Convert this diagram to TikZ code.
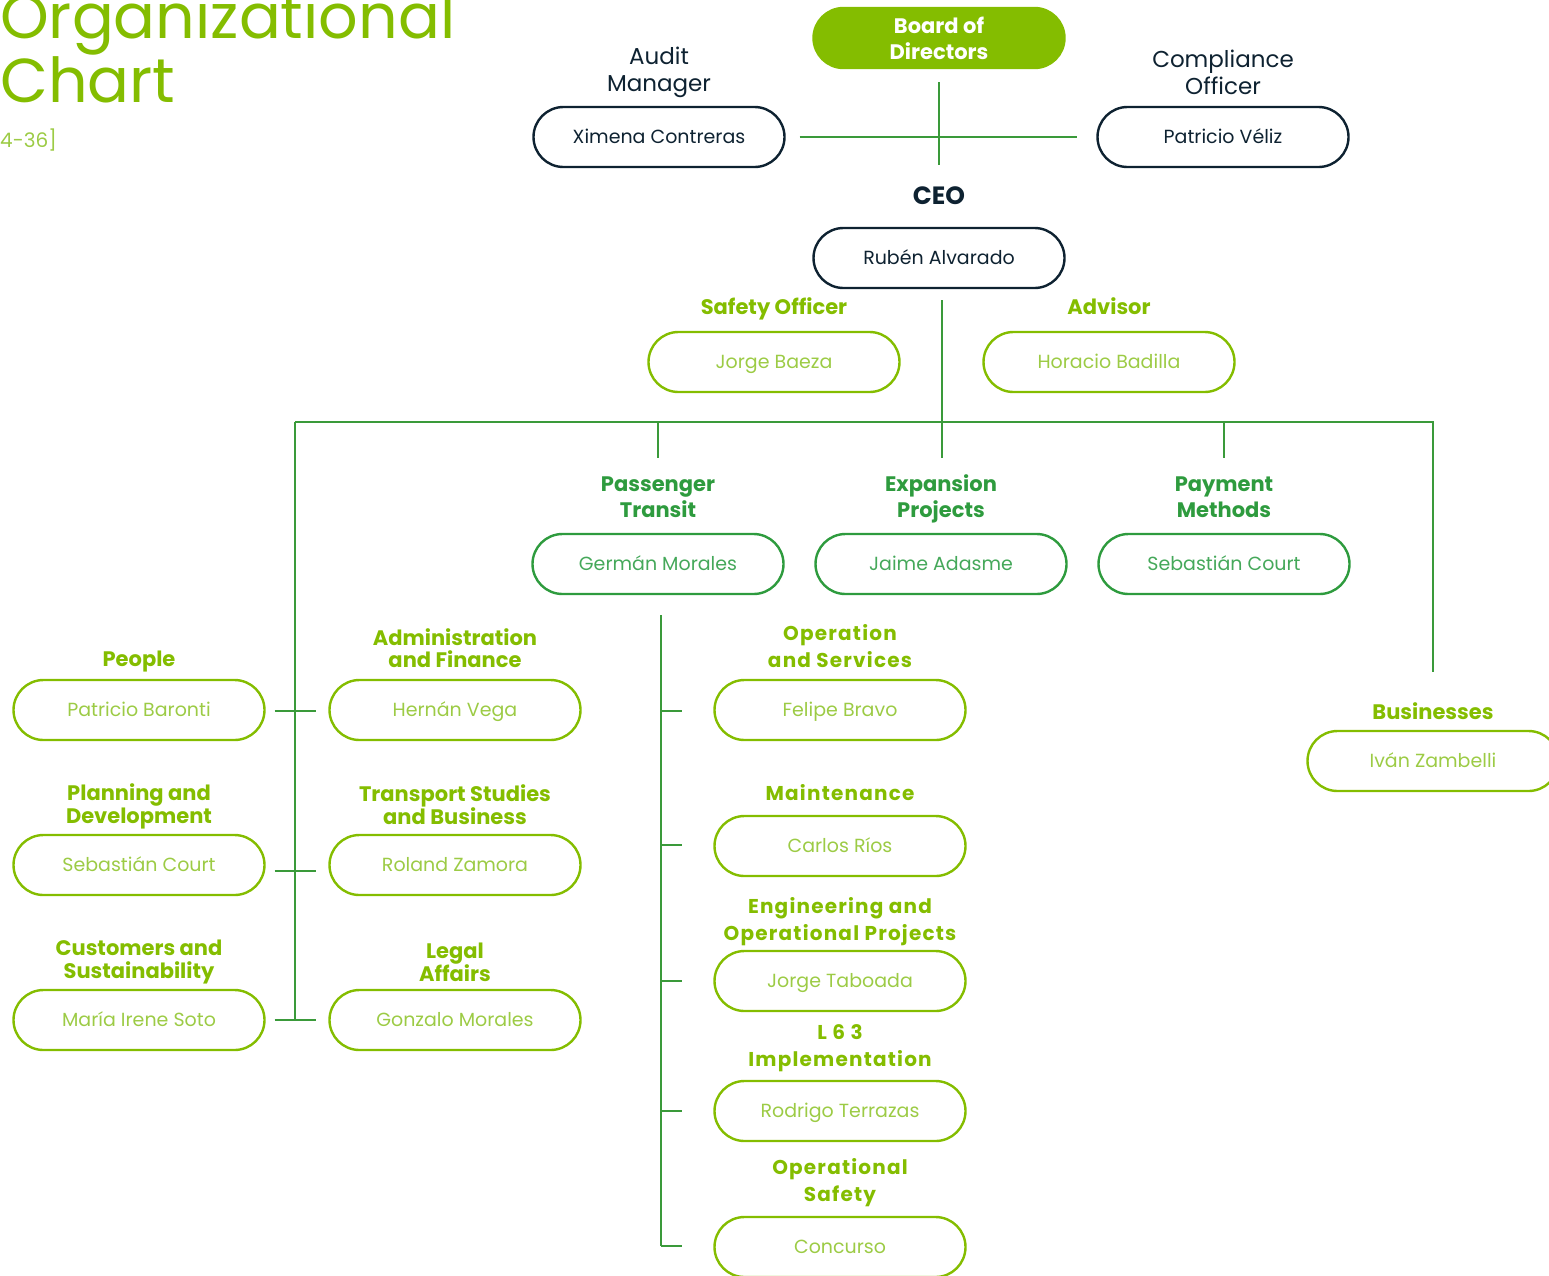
\documentclass[tikz,border=0pt]{standalone}
\usepackage{fontspec}
\setmainfont{Poppins}
\definecolor{lime}{HTML}{84BD00}
\definecolor{dgreen}{HTML}{2E9B3E}
\definecolor{navy}{HTML}{0E2231}
\definecolor{lline}{HTML}{3A9A3A}
\definecolor{limetxt}{HTML}{9CCB45}
\definecolor{dgtxt}{HTML}{45A85A}
\tikzset{
  box/.style={rectangle, rounded corners=30pt, minimum width=251pt, minimum height=60pt,
    line width=2.4pt, inner sep=0pt, text height=13pt, text depth=0pt, font=\fontsize{19}{22}\selectfont},
  navybox/.style={box, draw=navy, text=navy},
  limebox/.style={box, draw=lime, text=limetxt},
  greenbox/.style={box, draw=dgreen, text=dgtxt},
  lbl/.style={align=center, inner sep=0pt, font=\bfseries\fontsize{21}{26}\selectfont},
  onelbl/.style={text height=15pt, text depth=0pt},
  limelbl/.style={lbl, text=lime},
  greenlbl/.style={lbl, text=dgreen},
  widelbl/.style={lbl, text=lime, font=\bfseries\fontsize{20}{27}\selectfont\addfontfeature{LetterSpace=6}},
  navylbl/.style={align=center, inner sep=0pt, text=navy, font=\fontsize{23}{27}\selectfont},
  conn/.style={draw=lline, line width=1.1pt},
}
\begin{document}
\begin{tikzpicture}[x=1pt,y=-1pt]
\useasboundingbox (0,0) rectangle (1549,1275);
% title
\node[anchor=base west, inner sep=0pt, text=lime, font=\fontsize{62}{64}\selectfont] (t1) at (0,38) {Organizational};
\node[anchor=base west, inner sep=0pt, text=lime, font=\fontsize{62}{64}\selectfont] (t2) at (0,102) {Chart};
\node[anchor=base west, inner sep=0pt, text=limetxt, font=\fontsize{20}{22}\selectfont] (t3) at (0,147) {4-36]};

% top
\node[box, fill=lime, draw=lime, text=white, align=center, text height=, text depth=, font=\bfseries\fontsize{21}{26}\selectfont] (board) at (939,38) {Board of\\Directors};
\node[navylbl] (amlbl) at (659,72) {Audit\\Manager};
\node[navybox] (ximena) at (659,137) {Ximena Contreras};
\node[navylbl] (colbl) at (1223,72) {Compliance\\Officer};
\node[navybox] (veliz) at (1223,137) {Patricio Véliz};
\node[lbl, text height=18pt, text depth=0pt, text=navy, font=\bfseries\fontsize{25}{28}\selectfont] (ceolbl) at (939,195) {CEO};
\node[navybox] (ceo) at (939,258) {Rubén Alvarado};

\node[limelbl, onelbl] (solbl) at (774,307) {Safety Officer};
\node[limebox] (so) at (774,362) {Jorge Baeza};
\node[limelbl, onelbl] (advlbl) at (1109,307) {Advisor};
\node[limebox] (adv) at (1109,362) {Horacio Badilla};

% second level
\node[greenlbl] (ptlbl) at (658,497) {Passenger\\Transit};
\node[greenbox] (pt) at (658,564) {Germán Morales};
\node[greenlbl] (eplbl) at (941,499) {Expansion\\Projects};
\node[greenbox] (ep) at (941,564) {Jaime Adasme};
\node[greenlbl] (pmlbl) at (1224,497) {Payment\\Methods};
\node[greenbox] (pm) at (1224,564) {Sebastián Court};

% left columns
\node[limelbl, onelbl] (pelbl) at (139,659) {People};
\node[limebox] (pe) at (139,710) {Patricio Baronti};
\node[limelbl, font=\bfseries\fontsize{21}{23}\selectfont] (pdlbl) at (139,806) {Planning and\\Development};
\node[limebox] (pd) at (139,865) {Sebastián Court};
\node[limelbl, font=\bfseries\fontsize{21}{23}\selectfont] (cslbl) at (139,962) {Customers and\\Sustainability};
\node[limebox] (cs) at (139,1020) {María Irene Soto};

\node[limelbl, font=\bfseries\fontsize{21}{22}\selectfont] (aflbl) at (455,648) {Administration\\and Finance};
\node[limebox] (af) at (455,710) {Hernán Vega};
\node[limelbl, font=\bfseries\fontsize{21}{23}\selectfont] (tslbl) at (455,805) {Transport Studies\\and Business};
\node[limebox] (ts) at (455,865) {Roland Zamora};
\node[limelbl, font=\bfseries\fontsize{21}{23}\selectfont] (lalbl) at (455,962) {Legal\\Affairs};
\node[limebox] (la) at (455,1020) {Gonzalo Morales};

% right column
\node[widelbl] (oslbl) at (840,646) {Operation\\and Services};
\node[limebox] (os) at (840,710) {Felipe Bravo};
\node[widelbl, onelbl] (mtlbl) at (840,793) {Maintenance};
\node[limebox] (mt) at (840,846) {Carlos Ríos};
\node[widelbl] (eolbl) at (840,922) {Engineering and\\Operational Projects};
\node[limebox] (eo) at (840,981) {Jorge Taboada};
\node[widelbl] (l6lbl) at (840,1048) {L 6 3\\Implementation};
\node[limebox] (l6) at (840,1111) {Rodrigo Terrazas};
\node[widelbl] (oplbl) at (840,1183) {Operational\\Safety};
\node[limebox] (op) at (840,1247) {Concurso};

\node[limelbl, onelbl] (bulbl) at (1433,712) {Businesses};
\node[limebox] (bu) at (1433,761) {Iván Zambelli};

% connectors
\coordinate (bdA) at (939,82);
\coordinate (bdB) at (939,165);
\draw[conn] (bdA) -- (bdB);
\draw[conn] ([xshift=14pt]ximena.east) -- ([xshift=-19pt]veliz.west);

\coordinate (ceoA) at (942,300);
\coordinate (bus) at (942,422);
\coordinate (busL) at (295,422);
\coordinate (busR) at (1433,422);
\coordinate (ptT) at (658,422);
\coordinate (pmT) at (1224,422);
\coordinate (ptB) at (658,458);
\coordinate (epB) at (942,458);
\coordinate (pmB) at (1224,458);
\coordinate (buB) at (1433,672);
\draw[conn] (ceoA) -- (bus) -- (epB);
\draw[conn] (busL) -- (busR) -- (buB);
\draw[conn] (ptT) -- (ptB);
\draw[conn] (pmT) -- (pmB);

\coordinate (lv1) at (295,711);
\coordinate (lv2) at (295,871);
\coordinate (lv3) at (295,1020);
\draw[conn] (busL) -- (lv3);
\draw[conn] ([xshift=9pt]pe.east |- lv1) -- ([xshift=-12pt]af.west |- lv1);
\draw[conn] ([xshift=9pt]pd.east |- lv2) -- ([xshift=-12pt]ts.west |- lv2);
\draw[conn] ([xshift=9pt]cs.east |- lv3) -- ([xshift=-12pt]la.west |- lv3);

\coordinate (rvA) at (661,615);
\coordinate (rvB) at (661,1246);
\draw[conn] (rvA) -- (rvB);
\foreach \n/\yy in {os/711, mt/845, eo/981, l6/1111, op/1246}{
  \draw[conn] (661,\yy) -- ([xshift=-31pt]\n.west |- 0,\yy);
}
\end{tikzpicture}
\end{document}
